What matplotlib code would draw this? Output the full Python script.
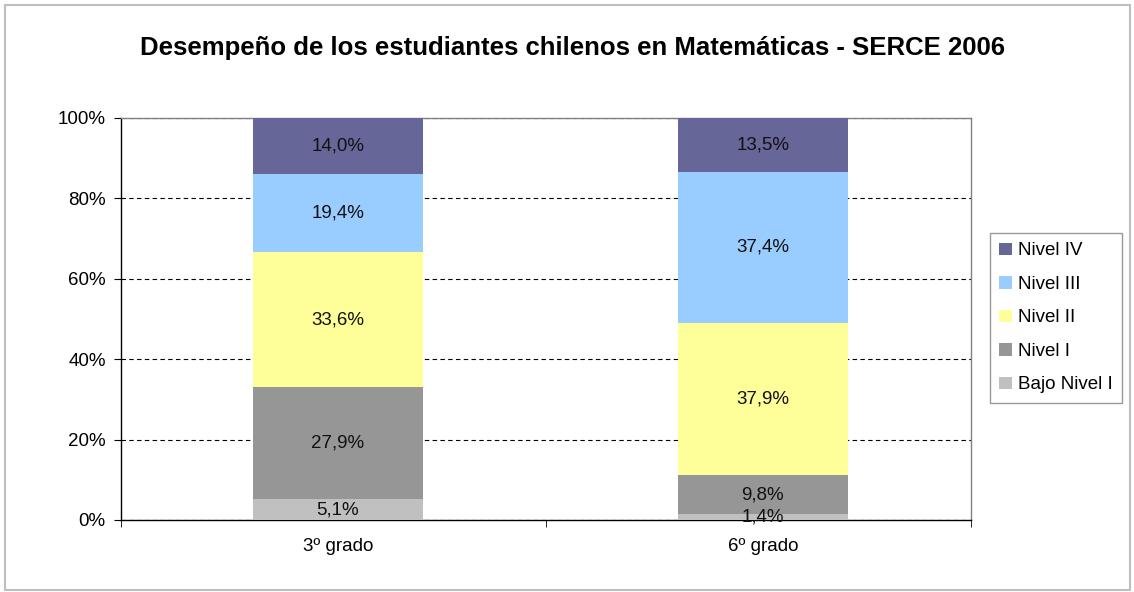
import matplotlib.pyplot as plt
from matplotlib.patches import Rectangle

plt.rcParams["font.family"] = ["Liberation Sans", "DejaVu Sans"]

grados = ["3º grado", "6º grado"]
niveles = ["Bajo Nivel I", "Nivel I", "Nivel II", "Nivel III", "Nivel IV"]
bajo_nivel_i = [5.1, 1.4]
nivel_i = [27.9, 9.8]
nivel_ii = [33.6, 37.9]
nivel_iii = [19.4, 37.4]
nivel_iv = [14.0, 13.5]
colores = ["#C0C0C0", "#969696", "#FFFF99", "#99CCFF", "#666699"]

series = [bajo_nivel_i, nivel_i, nivel_ii, nivel_iii, nivel_iv]
fs = 13.5

fig = plt.figure(figsize=(11.34, 5.92), dpi=100)
ax = fig.add_axes([121 / 1134, 72 / 592, 850 / 1134, 402 / 592])

x = list(range(len(grados)))
bottom = [0.0] * len(grados)
handles = []
for vals, nombre, col in zip(series, niveles, colores):
    bars = ax.bar(x, vals, width=0.4, bottom=bottom, color=col, label=nombre,
                  zorder=3)
    handles.append(bars)
    for xi, v, b in zip(x, vals, bottom):
        ax.text(xi, b + v / 2, f"{v:.1f}%".replace(".", ","), ha="center",
                va="center", fontsize=fs, color="#111111", zorder=4,
                clip_on=False)
    bottom = [b + v for b, v in zip(bottom, vals)]

ax.set_xlim(-0.51, 1.49)
ax.set_ylim(0, 100)
ax.set_yticks([0, 20, 40, 60, 80, 100])
ax.set_yticklabels([f"{t}%" for t in [0, 20, 40, 60, 80, 100]], fontsize=fs)
ax.set_xticks(x)
ax.set_xticklabels(grados, fontsize=fs)
ax.tick_params(axis="x", length=0, pad=13)
ax.set_xticks([-0.51, 0.49, 1.49], minor=True)
ax.tick_params(axis="x", which="minor", length=5, direction="out")
ax.tick_params(axis="y", length=5, direction="out", pad=6)

# dashed gridlines behind the bars
ax.yaxis.grid(True, linestyle=(0, (4, 3)), color="black", linewidth=0.8,
              zorder=1)
ax.spines["left"].set_color("black")
ax.spines["bottom"].set_color("black")
ax.spines["top"].set_color("#808080")
ax.spines["right"].set_color("#808080")
for s in ax.spines.values():
    s.set_linewidth(1.0)

leg = ax.legend(handles[::-1], niveles[::-1], loc="upper left",
                bbox_to_anchor=(990 / 1134, 359 / 592),
                bbox_transform=fig.transFigure, fontsize=fs, frameon=True,
                fancybox=False, edgecolor="#808080", handlelength=0.65,
                handleheight=0.65, handletextpad=0.35, labelspacing=0.88,
                borderpad=0.5, borderaxespad=0)
leg.get_frame().set_linewidth(1.0)

fig.text(572 / 1134, 1 - 48 / 592,
         "Desempeño de los estudiantes chilenos en Matemáticas - SERCE 2006",
         ha="center", va="center", fontsize=18.5, fontweight="bold")

fig.patches.append(Rectangle((5 / 1134, 2 / 592), 1125 / 1134, 585 / 592,
                             transform=fig.transFigure, fill=False,
                             edgecolor="#BFBFBF", linewidth=1.5))

fig.savefig("out.png", dpi=100)
